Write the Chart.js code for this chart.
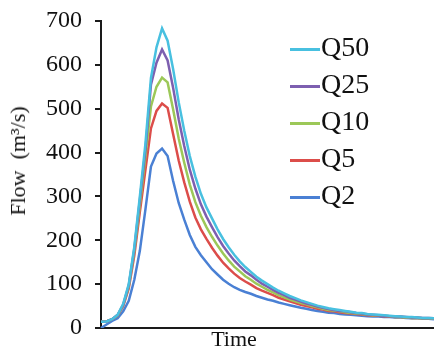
<!DOCTYPE html>
<html>
<head>
<meta charset="utf-8">
<script src="https://cdn.jsdelivr.net/npm/chart.js@4.4.1/dist/chart.umd.min.js"></script>
<style>
  html, body { margin: 0; padding: 0; background: #fff; }
  #wrap { position: relative; width: 434px; height: 351px; }
  #legend { position: absolute; left: 0; top: 0; }
  .item { position: absolute; left: 290px; height: 36px; display: flex; align-items: center; }
  .item .swatch { width: 30px; height: 3px; }
  .item .lbl { font: 28px "Liberation Serif", "Times New Roman", serif; color: #111; line-height: 36px; margin-left: 1px; margin-top: -4px; }
  .axis-title { position: absolute; font: 22px "Liberation Serif", "Times New Roman", serif; color: #111; white-space: pre; line-height: 26px; }
  #xTitle { left: 234px; top: 339px; transform: translate(-50%, -50%); }
  #yTitle { left: 18px; top: 161px; transform: translate(-50%, -50%) rotate(-90deg); }
</style>
</head>
<body>
<div id="wrap">
  <canvas id="flowChart" width="434" height="351"></canvas>
  <div id="legend"></div>
  <div class="axis-title" id="xTitle"></div>
  <div class="axis-title" id="yTitle"></div>
</div>
<script>
// time steps (x axis has no tick labels)
const timeSteps = [0,1,2,3,4,5,6,7,8,9,10,11,12,13,14,15,16,17,18,19,20,21,22,23,24,25,26,27,28,29,30,
  31,32,33,34,35,36,37,38,39,40,41,42,43,44,45,46,47,48,49,50,51,52,53,54,55,56,57,58,59,60];

// flows (m3/s)
const q50 = [14,15,20,30,55,100,185,300,420,570,640,683,
  655,590,515,450,392,345,306,275,250,225,203,184,167,152,139,128,117,108,100,92,85,79,73,68,63,
  59,55,51,48,45,43,41,39,37,35,34,32,31,30,29,28,27,26,25,25,24,23,23,22];
const q25 = [14,15,20,30,53,97,180,292,405,555,605,635,
  610,547,476,415,361,318,282,254,230,207,187,170,154,141,129,120,110,101,94,87,80,75,69,65,60,
  56,53,49,46,43,41,39,38,36,34,33,31,30,29,28,27,26,26,25,24,24,23,23,22];
const q10 = [14,15,20,29,52,94,175,280,390,505,550,571,
  560,498,432,377,327,287,256,230,208,188,170,154,140,129,118,110,101,94,87,81,75,70,65,61,57,
  54,50,47,44,41,40,38,36,34,33,32,30,29,29,28,27,25,25,24,23,23,22,22,21];
const q5 = [14,15,20,28,50,90,165,265,360,455,495,512,
  502,442,382,332,288,252,225,203,183,165,149,136,124,114,106,99,91,85,80,75,69,65,61,57,53,
  50,47,44,42,39,38,36,34,33,32,31,29,28,28,27,26,25,25,24,23,23,22,22,21];
const q2 = [0,8,16,22,38,62,110,176,270,368,398,409,
  392,335,285,247,212,185,166,150,134,122,110,101,93,87,82,78,73,69,65,62,58,55,52,49,46,
  44,41,39,37,35,34,32,31,30,29,28,27,26,26,25,25,24,24,23,22,22,21,21,20];

const seriesNames = ['Q50', 'Q25', 'Q10', 'Q5', 'Q2'];
const seriesData = [q50, q25, q10, q5, q2];
const seriesColors = ['#48c0e0', '#7d5fb0', '#9cc858', '#dc4d4a', '#4a80d4'];

const yTicks = [0, 100, 200, 300, 400, 500, 600, 700];
const xTitle = 'Time';
const yTitle = 'Flow  (m\u00b3/s)';

const serif = '"Liberation Serif", "Times New Roman", serif';

const ctx = document.getElementById('flowChart').getContext('2d');
new Chart(ctx, {
  type: 'line',
  data: {
    labels: timeSteps,
    datasets: seriesNames.map((name, i) => ({
      label: name,
      data: seriesData[i],
      borderColor: seriesColors[i],
      backgroundColor: seriesColors[i],
      borderWidth: 2.5,
      pointRadius: 0,
      tension: 0,
      fill: false
    }))
  },
  options: {
    responsive: false,
    animation: false,
    layout: { padding: { top: 21, right: 0, bottom: 0, left: 0 } },
    plugins: { legend: { display: false }, tooltip: { enabled: false } },
    scales: {
      x: {
        type: 'category',
        offset: false,
        grid: { display: false },
        border: { display: true, color: '#1a1a1a', width: 2 },
        ticks: { display: false },
        afterFit: s => { s.height = 23; }
      },
      y: {
        min: 0,
        max: 700,
        afterBuildTicks: s => { s.ticks = yTicks.map(v => ({ value: v })); },
        grid: { display: true, drawOnChartArea: false, drawTicks: true, tickLength: 6, color: '#1a1a1a', lineWidth: 2 },
        border: { display: true, color: '#1a1a1a', width: 2 },
        ticks: { color: '#111', padding: 13, font: { family: serif, size: 24 } },
        // fixed axis width; drop the tick padding that v4 adds above/below the labels
        afterFit: s => { s.width = 101; s.paddingTop = 14; s.paddingBottom = 14; }
      }
    }
  }
});

// axis titles and legend placed over the canvas
document.getElementById('xTitle').textContent = xTitle;
document.getElementById('yTitle').textContent = yTitle;

const legendEl = document.getElementById('legend');
seriesNames.forEach((name, i) => {
  const item = document.createElement('div');
  item.className = 'item';
  item.style.top = (31 + i * 37) + 'px';
  item.innerHTML = `<span class="swatch" style="background:${seriesColors[i]}"></span><span class="lbl">${name}</span>`;
  legendEl.appendChild(item);
});
</script>
</body>
</html>
